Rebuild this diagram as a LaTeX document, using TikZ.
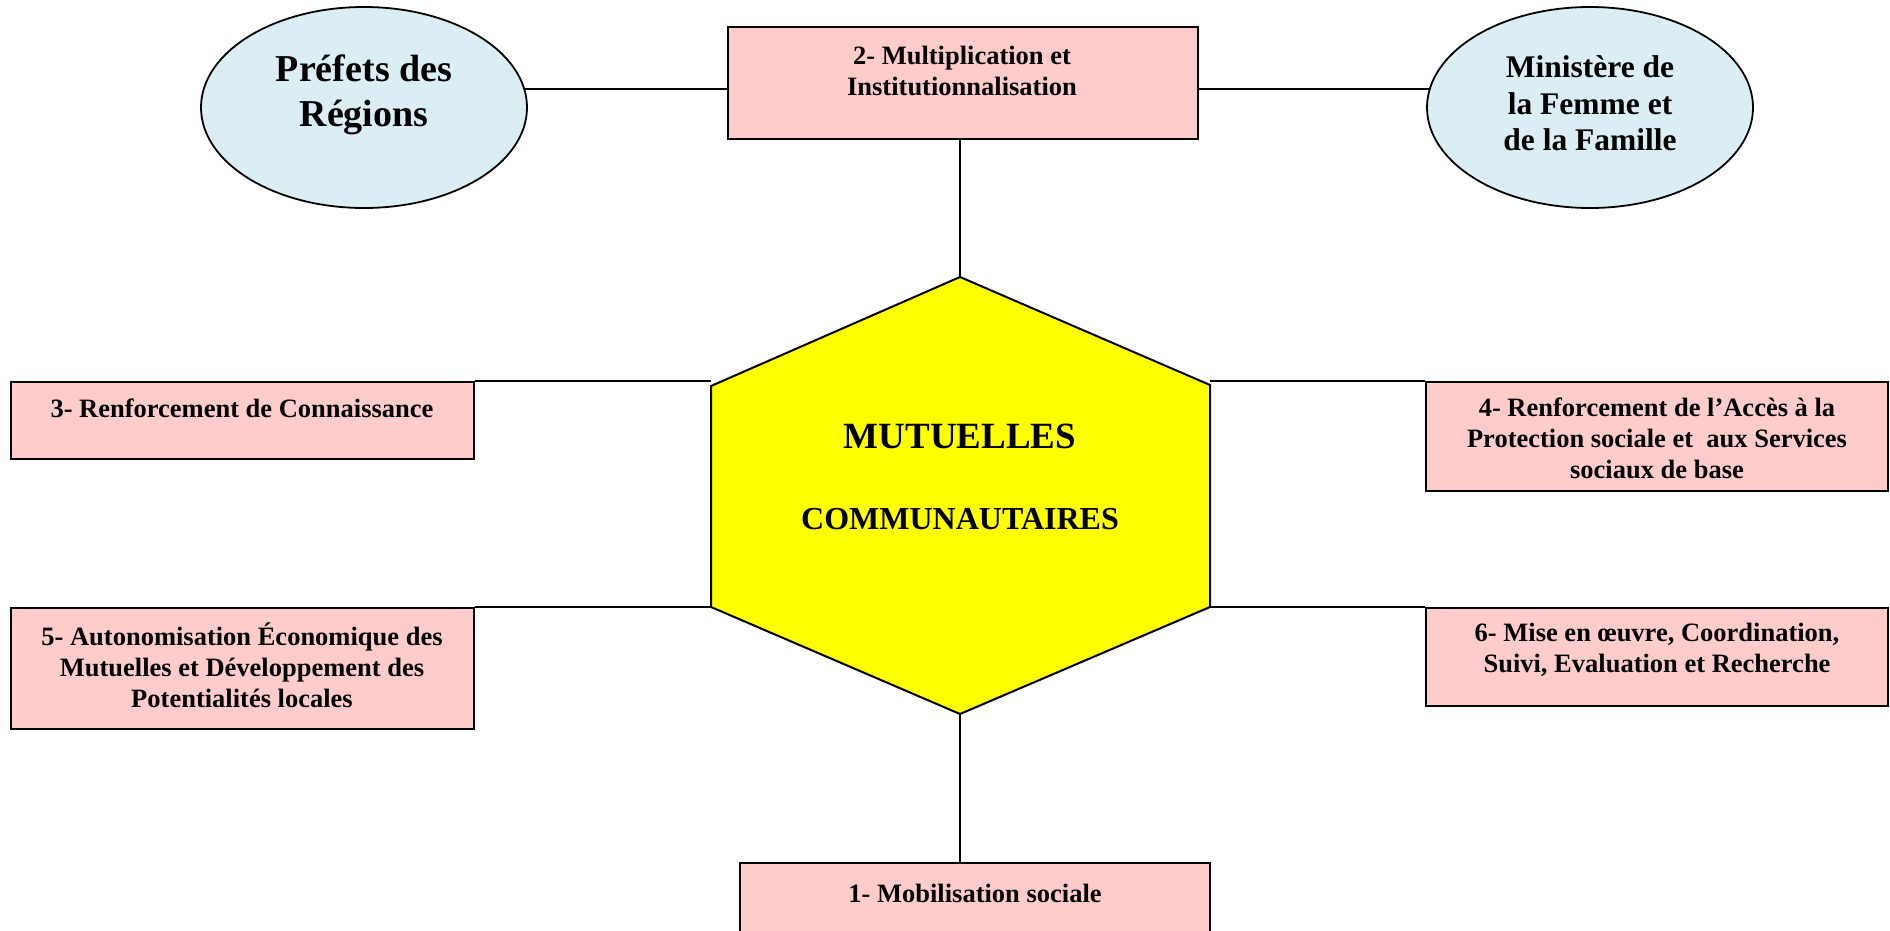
\documentclass[tikz,border=0pt]{standalone}
\usepackage{fontspec}
\setmainfont{Liberation Serif}
\usetikzlibrary{shapes.geometric,backgrounds}
\definecolor{ellblue}{HTML}{DAEEF3}
\definecolor{boxpink}{HTML}{FFCCCC}
\definecolor{hexyellow}{HTML}{FFFF00}
\tikzset{
  pinkbox/.style={draw=black, line width=1pt, fill=boxpink, rectangle, inner sep=0pt},
  ovalnode/.style={draw=black, line width=0.9pt, fill=ellblue, ellipse, inner sep=0pt,
                   minimum width=163pt, minimum height=100.5pt},
  boxtext/.style={align=center, inner sep=0pt, font=\fontsize{13.25}{15.5}\selectfont\bfseries},
  conn/.style={draw=black, line width=1pt},
  hexshape/.style={draw=black, line width=1pt, fill=hexyellow, line join=miter},
}
\begin{document}
\begin{tikzpicture}[x=0.5pt,y=-0.5pt]
\clip (0,0) rectangle (1890,931);
% ellipses
\node[ovalnode] (prefets) at (364,107.5) {};
\node[align=center, inner sep=0pt, font=\fontsize{19}{22.5}\selectfont\bfseries] (prefetsT) at (364,95) {Préfets des\\Régions};
\node[ovalnode] (ministere) at (1590,107.5) {};
\node[align=center, inner sep=0pt, font=\fontsize{15.75}{18.35}\selectfont\bfseries] (ministereT) at (1590,103.5) {Ministère de\\la Femme et\\de la Famille};
% boxes
\node[pinkbox, minimum width=235pt, minimum height=56pt] (multi) at (963,83) {};
\node[boxtext] (multiT) at (962,71) {2- Multiplication et\\Institutionnalisation};
\node[pinkbox, minimum width=231.5pt, minimum height=38.5pt] (connais) at (242.5,420.5) {};
\node[boxtext] (connaisT) at (242,408.6) {3- Renforcement de Connaissance};
\node[pinkbox, minimum width=231.5pt, minimum height=60.5pt] (autonom) at (242.5,668.5) {};
\node[boxtext] (autonomT) at (242,665.5) {5- Autonomisation Économique des\\Mutuelles et Développement des\\Potentialités locales};
\node[pinkbox, minimum width=231pt, minimum height=54.5pt] (acces) at (1657,436.5) {};
\node[boxtext] (accesT) at (1657,438.5) {4- Renforcement de l’Accès à la\\Protection sociale et\ \ aux Services\\sociaux de base};
\node[pinkbox, minimum width=231pt, minimum height=49pt] (miseoeuvre) at (1657,657) {};
\node[boxtext] (miseoeuvreT) at (1657,649.5) {6- Mise en œuvre, Coordination,\\Suivi, Evaluation et Recherche};
\node[pinkbox, minimum width=235pt, minimum height=41pt] (mobil) at (975,904) {};
\node[boxtext] (mobilT) at (975,893) {1- Mobilisation sociale};
% hexagon
\coordinate (ht) at (960,277);
\coordinate (hur) at (1210,385);
\coordinate (hlr) at (1210,607);
\coordinate (hb) at (960,714);
\coordinate (hll) at (711,607);
\coordinate (hul) at (711,386);
\draw[hexshape] (ht) -- (hur) -- (hlr) -- (hb) -- (hll) -- (hul) -- cycle;
\node[inner sep=0pt, font=\fontsize{18.5}{22}\selectfont\bfseries] (mutT) at (960,436) {MUTUELLES};
\node[inner sep=0pt, font=\fontsize{16}{19}\selectfont\bfseries] (comT) at (960,519.5) {COMMUNAUTAIRES};
% connectors
\begin{scope}[on background layer]
\fill[white] (0,0) rectangle (1890,931);
\draw[conn] (multi.west |- 0,89) -- (prefets.center |- 0,89);
\draw[conn] (multi.east |- 0,89) -- (ministere.center |- 0,89);
\end{scope}
\draw[conn] (ht) -- (ht |- multi.south);
\draw[conn] (hb) -- (hb |- mobil.north);
\draw[conn] (connais.north east) -- (connais.north east -| hul);
\draw[conn] (autonom.north east) -- (autonom.north east -| hll);
\draw[conn] (acces.north west) -- (acces.north west -| hur);
\draw[conn] (miseoeuvre.north west) -- (miseoeuvre.north west -| hlr);
\end{tikzpicture}
\end{document}
